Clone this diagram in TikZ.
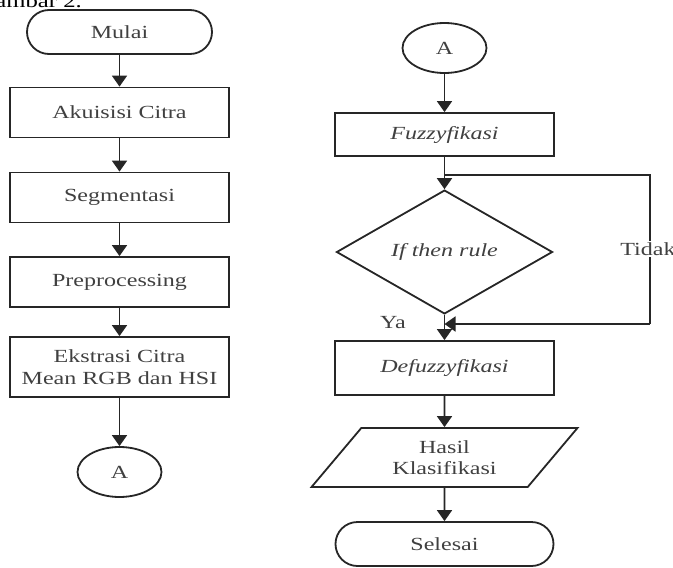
\documentclass[tikz,border=0pt]{standalone}
\usepackage{fontspec}
\setmainfont{Liberation Serif}[FakeStretch=1.3]
\usetikzlibrary{arrows.meta,shapes.geometric}
\begin{document}
\begin{tikzpicture}[x=1pt,y=-1pt,
  every node/.style={font=\fontsize{18.5}{21.5}\selectfont, text=black!75},
  line/.style={line width=1.8pt, draw=black!85},
  arr/.style={line, -{Triangle[length=11pt,width=15pt]}},
  procbox/.style={rectangle, line, minimum width=219pt, minimum height=50pt, align=center, inner sep=2pt},
  term/.style={rectangle, rounded corners=22pt, line, minimum height=44pt},
  conn/.style={ellipse, line, minimum width=84pt, minimum height=50pt, inner sep=0pt},
  decide/.style={diamond, line, minimum width=216pt, minimum height=100pt, inner sep=0pt},
  iobox/.style={trapezium, trapezium left angle=50, trapezium right angle=130,
    trapezium stretches=true, line, minimum width=266pt, minimum height=59pt, align=center, inner sep=2pt},
  lbl/.style={inner sep=1pt}]
\clip (0,0) rectangle (673,568);
\fill[white] (0,0) rectangle (673,568);

% caption line above the chart
\node[lbl, anchor=base east, font=\fontsize{19}{22}\selectfont, text=black] (cap) at (83,7) {Gambar 2.};

% left column
\node[term, minimum width=185pt] (mulai) at (119.5,32) {Mulai};
\node[procbox] (akuisisi) at (119.5,112.5) {Akuisisi Citra};
\node[procbox] (segmentasi) at (119.5,197.5) {Segmentasi};
\node[procbox] (pre) at (119.5,282) {Preprocessing};
\node[procbox, minimum height=60pt] (ekstrasi) at (119.5,367) {Ekstrasi Citra\\Mean RGB dan HSI};
\node[conn] (conA) at (119.5,472) {A};

\draw[arr] (mulai) -- (akuisisi);
\draw[arr] (akuisisi) -- (segmentasi);
\draw[arr] (segmentasi) -- (pre);
\draw[arr] (pre) -- (ekstrasi);
\draw[arr] (ekstrasi) -- (conA);

% right column
\node[conn] (conB) at (444.5,48) {A};
\node[procbox, minimum height=43pt] (fuzzy) at (444.5,134.5) {\itshape Fuzzyfikasi};
\node[decide] (rule) at (444.5,252) {\itshape If then rule};
\node[procbox, minimum height=54pt] (defuzzy) at (444.5,368) {\itshape Defuzzyfikasi};
\node[iobox] (hasil) at (444.5,457.5) {Hasil\\Klasifikasi};
\node[term, minimum width=218pt] (selesai) at (444.5,544) {Selesai};

\coordinate (br) at (444.5,175);
\coordinate (loopTR) at (650,175);
\coordinate (loopBR) at (650,324);
\coordinate (merge) at (444.5,324);

\draw[arr] (conB) -- (fuzzy);
\draw[arr] (fuzzy) -- (rule);
\draw[line] (br) -- (loopTR) -- (loopBR);
\draw[arr] (loopBR) -- (merge);
\draw[arr] (rule) -- (defuzzy);
\draw[arr] (defuzzy) -- (hasil);
\draw[arr] (hasil) -- (selesai);

\node[lbl, fill=white] (tidak) at (648,249) {Tidak};
\node[lbl] (ya) at (393,323) {Ya};
\end{tikzpicture}
\end{document}
